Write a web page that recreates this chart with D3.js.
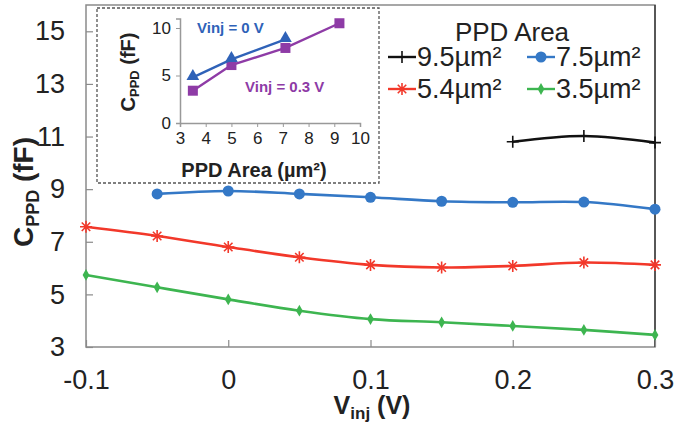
<!DOCTYPE html>
<html>
<head>
<meta charset="utf-8">
<script src="https://cdn.jsdelivr.net/npm/d3@7"></script>
<style>
  body { margin: 0; background: #fff; }
  svg { font-family: "Liberation Sans", Arial, sans-serif; }
</style>
</head>
<body>
<svg id="chart" width="700" height="423"></svg>
<script>
// main chart data
const vinj = [-0.1, -0.05, 0, 0.05, 0.1, 0.15, 0.2, 0.25, 0.3];
const c95 = [null, null, null, null, null, null, 10.8, 11.02, 10.77];
const c75 = [null, 8.82, 8.93, 8.82, 8.69, 8.54, 8.5, 8.51, 8.24];
const c54 = [7.57, 7.22, 6.8, 6.41, 6.12, 6.02, 6.08, 6.21, 6.12];
const c35 = [5.74, 5.27, 4.81, 4.38, 4.06, 3.94, 3.8, 3.65, 3.46];
const xTicks = [-0.1, 0, 0.1, 0.2, 0.3];
const yTicks = [3, 5, 7, 9, 11, 13, 15];

// inset data
const insetArea0 = [3.5, 5, 7.1];
const insetC0 = [4.8, 6.7, 8.8];
const insetArea3 = [3.5, 5, 7.1, 9.2];
const insetC3 = [3.4, 6.1, 7.9, 10.5];
const insetXTicks = [3, 4, 5, 6, 7, 8, 9, 10];
const insetYTicks = [0, 5, 10];

const series = [
  { label: '9.5µm²', values: c95, color: '#111111', marker: 'plus' },
  { label: '7.5µm²', values: c75, color: '#3478c6', marker: 'circle' },
  { label: '5.4µm²', values: c54, color: '#f2382a', marker: 'star' },
  { label: '3.5µm²', values: c35, color: '#3db550', marker: 'diamond' }
];

const svg = d3.select('#chart');
const plotL = 86, plotR = 655, plotT = 5, plotB = 347;

const x = d3.scaleLinear().domain([-0.1, 0.3]).range([plotL, plotR]);
const y = d3.scaleLinear().domain([3, 16]).range([plotB, plotT]);

// frame
svg.append('rect')
  .attr('x', plotL).attr('y', plotT)
  .attr('width', plotR - plotL).attr('height', plotB - plotT)
  .attr('fill', 'none').attr('stroke', '#8a8a8a').attr('stroke-width', 1.5);
svg.append('line')
  .attr('x1', plotR).attr('x2', plotR).attr('y1', plotT).attr('y2', plotB)
  .attr('stroke', '#222').attr('stroke-width', 1.2);

// axes with inward ticks
const xAxis = svg.append('g')
  .attr('transform', `translate(0,${plotB})`)
  .call(d3.axisBottom(x).tickValues(xTicks).tickSize(-7).tickPadding(23)
    .tickFormat(d => String(+d.toFixed(1))));
const yAxis = svg.append('g')
  .attr('transform', `translate(${plotL},0)`)
  .call(d3.axisLeft(y).tickValues(yTicks).tickSize(-7).tickPadding(21));
[xAxis, yAxis].forEach(g => {
  g.select('.domain').remove();
  g.selectAll('.tick line').attr('stroke', '#8a8a8a').attr('stroke-width', 1.2);
  g.selectAll('.tick text').attr('font-size', 27).attr('fill', '#222')
    .attr('font-family', '"Liberation Sans", Arial, sans-serif');
});

// axis titles
const xt = svg.append('text')
  .attr('x', 372).attr('y', 414)
  .attr('text-anchor', 'middle')
  .attr('font-size', 25).attr('font-weight', 'bold').attr('fill', '#222');
xt.append('tspan').text('V');
xt.append('tspan').attr('font-size', 17).attr('dy', 5).text('inj');
xt.append('tspan').attr('dy', -5).text(' (V)');

const yt = svg.append('text')
  .attr('transform', 'translate(33,192) rotate(-90)')
  .attr('text-anchor', 'middle')
  .attr('font-size', 28).attr('font-weight', 'bold').attr('fill', '#222');
yt.append('tspan').text('C');
yt.append('tspan').attr('font-size', 18).attr('dy', 6).text('PPD');
yt.append('tspan').attr('dy', -6).text(' (fF)');

// markers
function drawMarker(g, type, cx, cy, color) {
  if (type === 'circle') {
    g.append('circle').attr('cx', cx).attr('cy', cy).attr('r', 5.5).attr('fill', color);
  } else if (type === 'diamond') {
    g.append('path')
      .attr('d', d3.symbol(d3.symbolDiamond, 40)())
      .attr('transform', `translate(${cx},${cy})`)
      .attr('fill', color);
  } else if (type === 'plus') {
    g.append('path')
      .attr('d', `M${cx - 6},${cy}H${cx + 6}M${cx},${cy - 6}V${cy + 6}`)
      .attr('stroke', color).attr('stroke-width', 1.6);
  } else if (type === 'star') {
    const r = 6;
    let d = '';
    for (let a = 0; a < 4; a++) {
      const t = a * Math.PI / 4;
      d += `M${cx - r * Math.cos(t)},${cy - r * Math.sin(t)}L${cx + r * Math.cos(t)},${cy + r * Math.sin(t)}`;
    }
    g.append('path').attr('d', d).attr('stroke', color).attr('stroke-width', 1.6);
  }
}

// series lines
const line = d3.line()
  .x(d => x(d[0])).y(d => y(d[1]))
  .curve(d3.curveCatmullRom.alpha(0.5));

series.forEach(s => {
  const pts = vinj.map((v, i) => [v, s.values[i]]).filter(d => d[1] != null);
  const g = svg.append('g');
  g.append('path').datum(pts)
    .attr('d', line)
    .attr('fill', 'none').attr('stroke', s.color).attr('stroke-width', 2.6);
  pts.forEach(p => drawMarker(g, s.marker, x(p[0]), y(p[1]), s.color));
});

// legend
svg.append('text').attr('x', 512).attr('y', 41)
  .attr('text-anchor', 'middle').attr('font-size', 26).attr('fill', '#222')
  .text('PPD Area');
const legPos = [[388, 57], [527, 57], [388, 89], [527, 89]];
series.forEach((s, i) => {
  const [lx, ly] = legPos[i];
  const g = svg.append('g');
  g.append('line').attr('x1', lx).attr('x2', lx + 28).attr('y1', ly).attr('y2', ly)
    .attr('stroke', s.color).attr('stroke-width', 2.4);
  drawMarker(g, s.marker, lx + 14, ly, s.color);
  g.append('text').attr('x', lx + 29).attr('y', ly + 9)
    .attr('font-size', 27).attr('fill', '#222').text(s.label);
});

// inset
const inset = svg.append('g');
inset.append('rect')
  .attr('x', 97).attr('y', 8).attr('width', 282).attr('height', 175)
  .attr('fill', '#fff').attr('stroke', '#555').attr('stroke-width', 1.3)
  .attr('stroke-dasharray', '3,2');

const ix = d3.scaleLinear().domain([3, 10]).range([180, 360]);
const iy = d3.scaleLinear().domain([0, 11]).range([123, 18.5]);

const ixAxis = inset.append('g').attr('transform', 'translate(0,123)')
  .call(d3.axisBottom(ix).tickValues(insetXTicks).tickSize(4).tickPadding(5)
    .tickFormat(d3.format('d')));
const iyAxis = inset.append('g').attr('transform', 'translate(180,0)')
  .call(d3.axisLeft(iy).tickValues(insetYTicks).tickSize(4).tickPadding(5));
[ixAxis, iyAxis].forEach(g => {
  g.select('.domain').attr('stroke', '#999').attr('stroke-width', 1.5);
  g.selectAll('.tick line').attr('stroke', '#999');
  g.selectAll('.tick text').attr('font-size', 17).attr('fill', '#222')
    .attr('font-family', '"Liberation Sans", Arial, sans-serif');
});

inset.append('text').attr('x', 254).attr('y', 177)
  .attr('text-anchor', 'middle').attr('font-size', 20).attr('font-weight', 'bold')
  .attr('fill', '#222').text('PPD Area (µm²)');
const iyt = inset.append('text')
  .attr('transform', 'translate(135,72) rotate(-90)')
  .attr('text-anchor', 'middle').attr('font-size', 20).attr('font-weight', 'bold')
  .attr('fill', '#222');
iyt.append('tspan').text('C');
iyt.append('tspan').attr('font-size', 13).attr('dy', 4).text('PPD');
iyt.append('tspan').attr('dy', -4).text(' (fF)');

const iline = d3.line().x(d => ix(d[0])).y(d => iy(d[1]));
const blue0 = insetArea0.map((a, i) => [a, insetC0[i]]);
const purple3 = insetArea3.map((a, i) => [a, insetC3[i]]);

inset.append('path').datum(purple3).attr('d', iline)
  .attr('fill', 'none').attr('stroke', '#8e3ba6').attr('stroke-width', 2.4);
purple3.forEach(p => inset.append('rect')
  .attr('x', ix(p[0]) - 5).attr('y', iy(p[1]) - 5).attr('width', 10).attr('height', 10)
  .attr('fill', '#8e3ba6'));
inset.append('path').datum(blue0).attr('d', iline)
  .attr('fill', 'none').attr('stroke', '#2f62b8').attr('stroke-width', 2.4);
blue0.forEach(p => inset.append('path')
  .attr('d', d3.symbol(d3.symbolTriangle, 70)())
  .attr('transform', `translate(${ix(p[0])},${iy(p[1]) - 1})`)
  .attr('fill', '#2f62b8'));

inset.append('text').attr('x', 197).attr('y', 33)
  .attr('font-size', 15).attr('font-weight', 'bold').attr('fill', '#2f62b8')
  .text('Vinj = 0 V');
inset.append('text').attr('x', 245).attr('y', 92)
  .attr('font-size', 15).attr('font-weight', 'bold').attr('fill', '#8e3ba6')
  .text('Vinj = 0.3 V');
</script>
</body>
</html>
